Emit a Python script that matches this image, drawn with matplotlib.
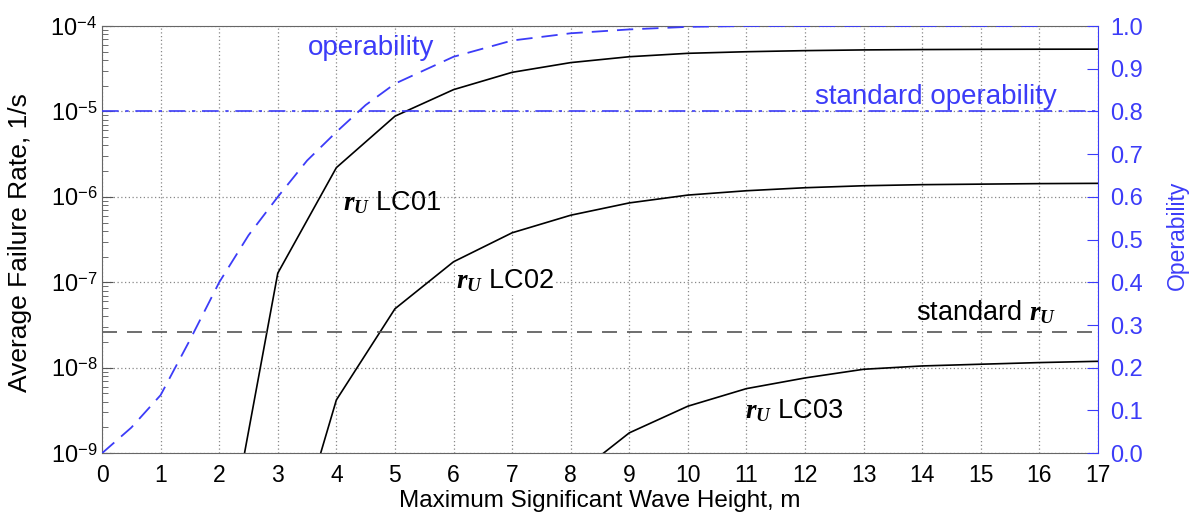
import math
import matplotlib
matplotlib.use('Agg')
import matplotlib.pyplot as plt
from matplotlib.ticker import FixedLocator, FuncFormatter, LogLocator, NullFormatter

plt.rcParams['font.family'] = ['Liberation Sans', 'DejaVu Sans']
plt.rcParams['mathtext.fontset'] = 'custom'
plt.rcParams['mathtext.rm'] = 'Liberation Sans'
plt.rcParams['mathtext.it'] = 'Liberation Serif:italic'
plt.rcParams['mathtext.bf'] = 'Liberation Serif:bold'
plt.rcParams['mathtext.bfit'] = 'Liberation Serif:italic:bold'

BLUE = '#3c3cf8'

# wave height grid for the failure-rate curves
hs = [2, 3, 4, 5, 6, 7, 8, 9, 10, 11, 12, 13, 14, 15, 16, 17]
rate_lc01 = [2.5e-11, 1.28e-7, 2.2e-6, 8.8e-6, 1.8e-5, 2.87e-5, 3.73e-5, 4.37e-5,
             4.79e-5, 5.0e-5, 5.15e-5, 5.25e-5, 5.3e-5, 5.33e-5, 5.35e-5, 5.36e-5]
rate_lc02 = [1e-12, 2e-11, 4.2e-9, 4.9e-8, 1.74e-7, 3.8e-7, 6.1e-7, 8.5e-7,
             1.05e-6, 1.18e-6, 1.28e-6, 1.35e-6, 1.39e-6, 1.41e-6, 1.43e-6, 1.44e-6]
rate_lc03 = [1e-13, 1e-12, 1e-11, 1e-10, 1e-10, 1.5e-10, 5e-10, 1.73e-9,
             3.55e-9, 5.7e-9, 7.6e-9, 9.6e-9, 1.05e-8, 1.1e-8, 1.15e-8, 1.19e-8]

# operability vs. maximum significant wave height
hs_op = [0, 0.5, 1, 1.5, 2, 2.5, 3, 3.5, 4, 4.5, 5, 6, 7, 8, 9, 10, 11, 12, 13, 14, 15, 16]
operability = [0.0, 0.06, 0.136, 0.265, 0.40, 0.51, 0.60, 0.685, 0.752, 0.815, 0.865,
               0.928, 0.966, 0.983, 0.992, 0.998, 1.0, 1.0, 1.0, 1.0, 1.0, 1.0]

standard_rate = 2.6e-8
standard_operability = 0.8

fig = plt.figure(figsize=(11.92, 5.15), dpi=100)
ax = fig.add_axes([0.0856, 0.120, 0.8355, 0.8295])

for rate in (rate_lc01, rate_lc02, rate_lc03):
    ax.plot(hs, rate, color='black', lw=1.2)
ax.axhline(standard_rate, color='#555555', lw=1.2, dashes=(9, 6))

ax.set_yscale('log')
ax.set_xlim(0, 17)
ax.set_ylim(1e-9, 1e-4)
ax.xaxis.set_major_locator(FixedLocator(range(0, 18)))
ax.yaxis.set_major_locator(LogLocator(base=10, numticks=10))
ax.yaxis.set_minor_locator(LogLocator(base=10, subs=range(2, 10), numticks=10))
ax.yaxis.set_minor_formatter(NullFormatter())
ax.yaxis.set_major_formatter(FuncFormatter(lambda v, p: r'$10^{%d}$' % round(math.log10(v))))
ax.tick_params(axis='both', which='both', direction='in')
ax.tick_params(axis='y', which='major', length=8, width=0.8, color='#555555', labelsize=17)
ax.tick_params(axis='y', which='minor', length=4, width=0.6, color='#555555')
ax.tick_params(axis='x', length=0, pad=8, labelsize=16.5)
ax.grid(True, which='major', color='#888888', lw=0.9, linestyle=(0, (1, 2)))
for side in ('left', 'bottom', 'top'):
    ax.spines[side].set_color('#666666')
ax.spines['right'].set_visible(False)

ax.set_xlabel('Maximum Significant Wave Height, m', fontsize=17.5, va='baseline')
ax.xaxis.set_label_coords(0.5, -0.127)
ax.set_ylabel('Average Failure Rate, 1/s', fontsize=19, va='center')
ax.yaxis.set_label_coords(-0.082, 0.494)

ru = r'$\mathbfit{r}_{\mathbfit{U}}$'
ax.text(4.11, 10 ** -6.155, ru + ' LC01', fontsize=19.5, va='baseline')
ax.text(6.05, 10 ** -7.064, ru + ' LC02', fontsize=19.5, va='baseline',
        bbox=dict(facecolor='white', edgecolor='none', pad=1))
ax.text(10.97, 10 ** -8.594, ru + ' LC03', fontsize=19.5, va='baseline')
ax.text(13.89, 10 ** -7.443, 'standard ' + ru, fontsize=19.5, va='baseline')

ax2 = ax.twinx()
ax2.plot(hs_op, operability, color=BLUE, lw=1.3, dashes=(9, 5))
ax2.axhline(standard_operability, color=BLUE, lw=1.2, dashes=(10, 4, 2, 4))
ax2.set_ylim(0, 1)
ax2.set_yticks([i / 10 for i in range(11)])
ax2.yaxis.set_major_formatter(FuncFormatter(lambda v, p: '%.1f' % v))
ax2.tick_params(axis='y', direction='in', length=8, width=0.8, colors=BLUE,
                labelsize=17, pad=9)
ax2.spines['right'].set_color(BLUE)
for side in ('left', 'bottom', 'top'):
    ax2.spines[side].set_visible(False)
ax2.set_ylabel('Operability', color=BLUE, fontsize=16.5, va='center')
ax2.yaxis.set_label_coords(1.080, 0.51)

ax2.text(3.515, 0.932, 'operability', color=BLUE, fontsize=20, va='baseline')
ax2.text(12.17, 0.817, 'standard operability', color=BLUE, fontsize=20, va='baseline')

fig.savefig('out.png', dpi=100)
